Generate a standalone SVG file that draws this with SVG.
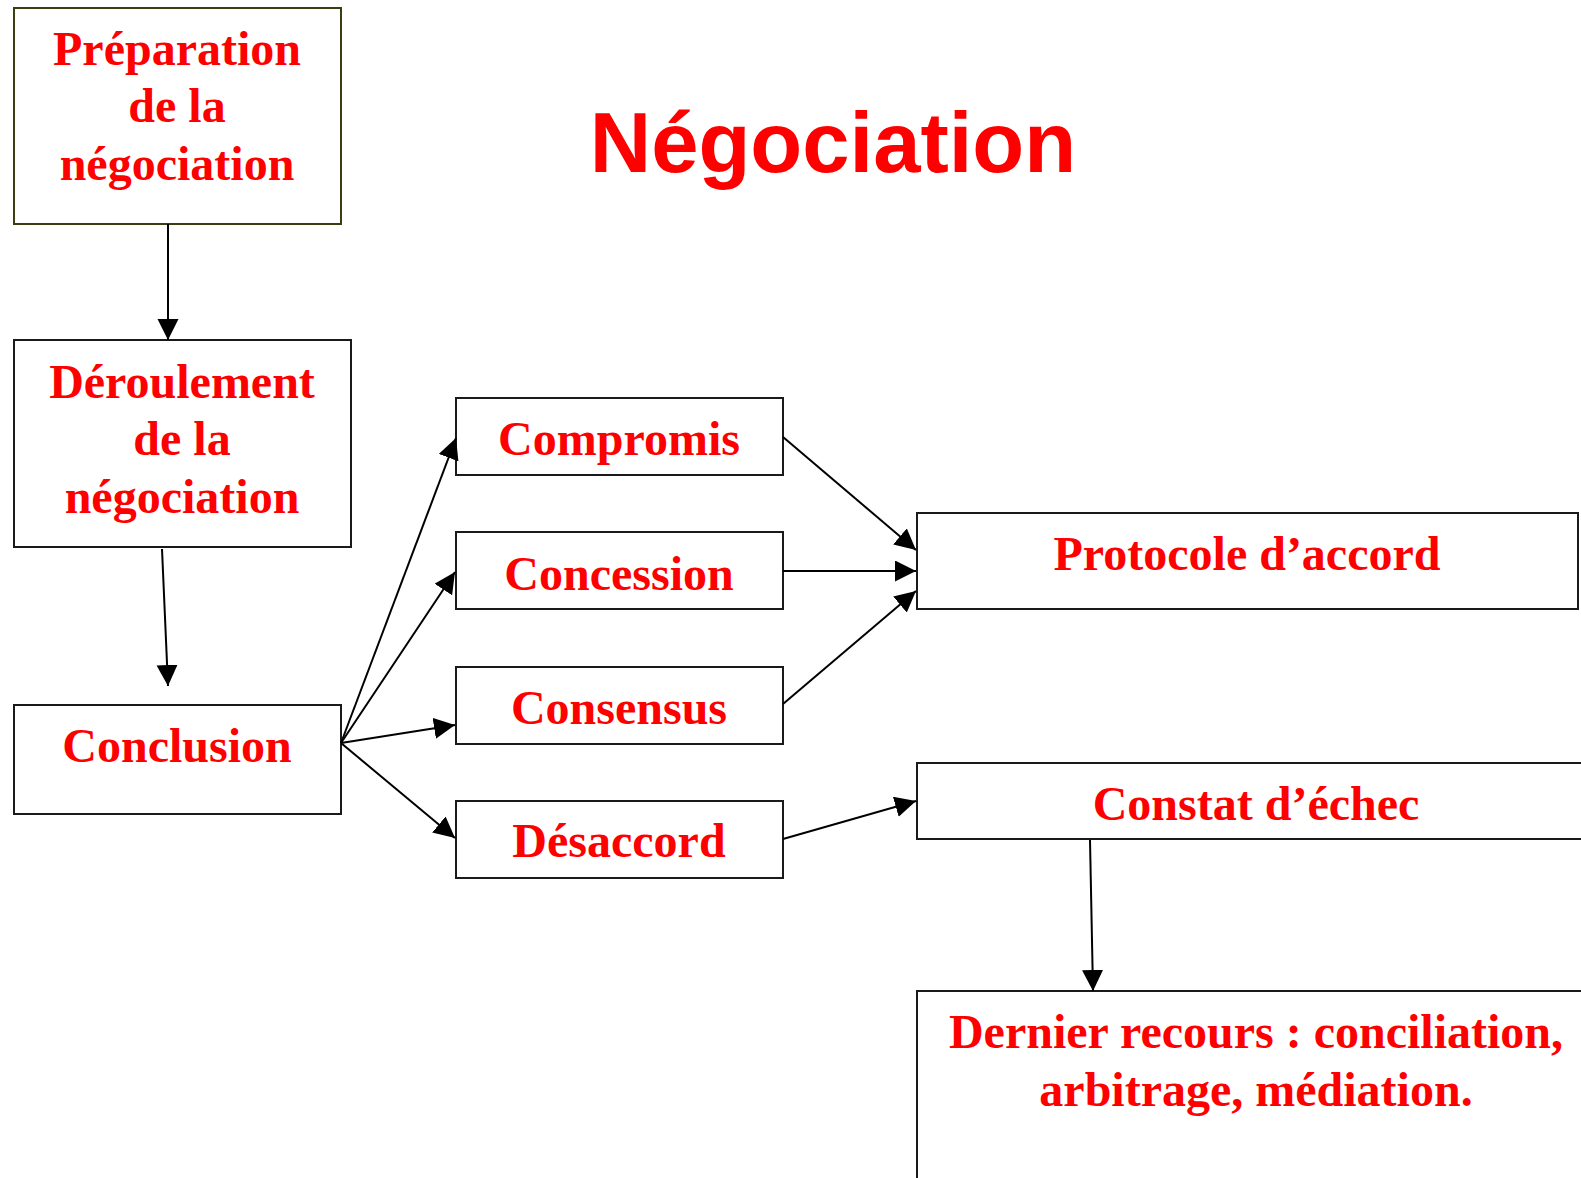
<svg xmlns="http://www.w3.org/2000/svg" width="1581" height="1178" viewBox="0 0 1581 1178">
<style>
.box{fill:#fff;stroke:#1a1a1a;stroke-width:2}
.t{font-family:"Liberation Serif","Times New Roman",serif;font-weight:bold;font-size:48px;fill:#ff0000;text-anchor:middle}
.title{font-family:"Liberation Sans",Arial,sans-serif;font-weight:bold;font-size:85px;fill:#ff0000;text-anchor:middle}
.c{stroke:#000;stroke-width:2;fill:none;marker-end:url(#ah)}
</style>
<defs>
<marker id="ah" markerUnits="userSpaceOnUse" markerWidth="22" markerHeight="22" refX="21" refY="10.5" orient="auto">
<path d="M0,0 L21,10.5 L0,21 z" fill="#000"/>
</marker>
</defs>
<rect width="1581" height="1178" fill="#fff"/>
<text class="title" x="833" y="172">Négociation</text>
<g id="n-preparation">
<rect class="box" x="14" y="8" width="327" height="216" style="stroke:#3d3d14"/>
<text class="t" x="177" y="65">Préparation</text>
<text class="t" x="177" y="122">de la</text>
<text class="t" x="177" y="180">négociation</text>
</g>
<g id="n-deroulement">
<rect class="box" x="14" y="340" width="337" height="207"/>
<text class="t" x="182" y="398">Déroulement</text>
<text class="t" x="182" y="455">de la</text>
<text class="t" x="182" y="513">négociation</text>
</g>
<g id="n-conclusion">
<rect class="box" x="14" y="705" width="327" height="109"/>
<text class="t" x="177" y="762">Conclusion</text>
</g>
<g id="n-compromis">
<rect class="box" x="456" y="398" width="327" height="77"/>
<text class="t" x="619" y="455">Compromis</text>
</g>
<g id="n-concession">
<rect class="box" x="456" y="532" width="327" height="77"/>
<text class="t" x="619" y="590">Concession</text>
</g>
<g id="n-consensus">
<rect class="box" x="456" y="667" width="327" height="77"/>
<text class="t" x="619" y="724">Consensus</text>
</g>
<g id="n-desaccord">
<rect class="box" x="456" y="801" width="327" height="77"/>
<text class="t" x="619" y="857">Désaccord</text>
</g>
<g id="n-protocole">
<rect class="box" x="917" y="513" width="661" height="96"/>
<text class="t" x="1247" y="570">Protocole d’accord</text>
</g>
<g id="n-constat">
<rect class="box" x="917" y="763" width="680" height="76"/>
<text class="t" x="1256" y="820">Constat d’échec</text>
</g>
<g id="n-dernier">
<rect class="box" x="917" y="991" width="680" height="200"/>
<text class="t" x="1256" y="1048">Dernier recours : conciliation,</text>
<text class="t" x="1256" y="1106">arbitrage, médiation.</text>
</g>
<g id="connectors">
<line class="c" x1="168" y1="224" x2="168" y2="340"/>
<line class="c" x1="162" y1="549" x2="168" y2="686"/>
<line class="c" x1="341" y1="743" x2="456" y2="438"/>
<line class="c" x1="341" y1="743" x2="455" y2="572"/>
<line class="c" x1="341" y1="743" x2="455" y2="725"/>
<line class="c" x1="341" y1="743" x2="455" y2="838"/>
<line class="c" x1="783" y1="437" x2="916" y2="550"/>
<line class="c" x1="783" y1="571" x2="916" y2="571"/>
<line class="c" x1="783" y1="704" x2="916" y2="591"/>
<line class="c" x1="783" y1="839" x2="916" y2="801"/>
<line class="c" x1="1090" y1="840" x2="1093" y2="991"/>
</g>
</svg>
